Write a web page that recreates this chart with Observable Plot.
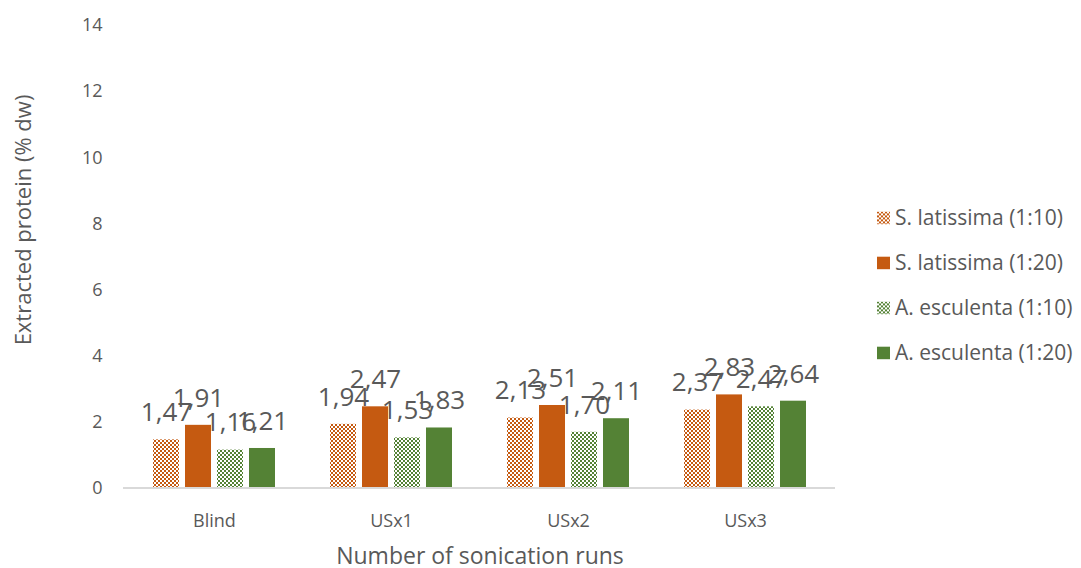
<!DOCTYPE html>
<html>
<head>
<meta charset="utf-8">
<script src="https://cdn.jsdelivr.net/npm/d3@7"></script>
<script src="https://cdn.jsdelivr.net/npm/@observablehq/plot@0.6"></script>
<style>
  html, body { margin: 0; padding: 0; background: #fff; }
  #chart { position: relative; width: 1081px; height: 568px; font-family: "Open Sans", sans-serif; color: #595959; }
  #chart svg.plot { position: absolute; left: 0; top: 0; }
  .ytitle { position: absolute; left: 22px; top: 220px; transform: translate(-50%, -50%) rotate(-90deg); white-space: nowrap; font-size: 22px; line-height: 1; }
  .xtitle { position: absolute; left: 480px; top: 555px; transform: translate(-50%, -50%); white-space: nowrap; font-size: 23px; line-height: 1; }
  .legend { position: absolute; left: 877px; top: 0; }
  .legend .item { position: absolute; left: 0; display: flex; align-items: center; white-space: nowrap; font-size: 21px; line-height: 1.2; transform: translateY(-50%); }
  .legend .item svg { margin-right: 5px; }
</style>
</head>
<body>
<div id="chart">
  <svg width="0" height="0" style="position:absolute">
    <defs>
      <pattern id="chkOrange" width="4" height="4" patternUnits="userSpaceOnUse">
        <rect width="4" height="4" fill="#ffffff"/>
        <rect width="2" height="2" fill="#C55A11"/>
        <rect x="2" y="2" width="2" height="2" fill="#C55A11"/>
      </pattern>
      <pattern id="chkGreen" width="4" height="4" patternUnits="userSpaceOnUse">
        <rect width="4" height="4" fill="#ffffff"/>
        <rect width="2" height="2" fill="#548235"/>
        <rect x="2" y="2" width="2" height="2" fill="#548235"/>
      </pattern>
    </defs>
  </svg>
</div>
<script>
// Number of sonication runs (groups along the x axis)
const categories = ["Blind", "USx1", "USx2", "USx3"];
// Species / solid-to-liquid ratio series
const series = ["S. latissima (1:10)", "S. latissima (1:20)", "A. esculenta (1:10)", "A. esculenta (1:20)"];
const seriesFills = ["url(#chkOrange)", "#C55A11", "url(#chkGreen)", "#548235"];
// Extracted protein (% dw), one array per series, in category order
const slat10 = [1.47, 1.94, 2.13, 2.37];
const slat20 = [1.91, 2.47, 2.51, 2.83];
const aesc10 = [1.16, 1.53, 1.70, 2.47];
const aesc20 = [1.21, 1.83, 2.11, 2.64];
const yTicks = [0, 2, 4, 6, 8, 10, 12, 14];

const valuesBySeries = [slat10, slat20, aesc10, aesc20];
const data = [];
categories.forEach((c, i) => {
  series.forEach((s, j) => data.push({category: c, series: s, value: valuesBySeries[j][i]}));
});

const fmt = v => v.toFixed(2).replace(".", ",");

const plot = Plot.plot({
  width: 850,
  height: 568,
  marginLeft: 124,
  marginRight: 15,
  marginTop: 25,
  marginBottom: 80,
  style: {fontFamily: "'Open Sans', sans-serif", fontSize: "18px", color: "#595959", background: "transparent"},
  fx: {domain: categories, paddingInner: 0.23, paddingOuter: 0.115, axis: "bottom", tickSize: 0, tickPadding: 26, label: null},
  x: {domain: series, padding: 0.2, axis: null},
  // the y axis sits on the first facet, so its padding also covers the outer facet gap
  y: {domain: [0, 14], ticks: yTicks, tickSize: 0, tickPadding: 44, label: null},
  color: {domain: series, range: seriesFills},
  marks: [
    Plot.barY(data, {fx: "category", x: "series", y: "value", fill: "series"}),
    Plot.text(data, {fx: "category", x: "series", y: "value", text: d => fmt(d.value), dy: -27, fontSize: 26, fill: "#595959"})
  ]
});
plot.classList.add("plot");

// Category axis baseline across the full plotting width
const yScale = plot.scale("y");
const fxScale = plot.scale("fx");
const [xa, xb] = fxScale.range;
const y0 = yScale.apply(0);
d3.select(plot).append("line")
  .attr("x1", xa - 1).attr("x2", xb)
  .attr("y1", y0).attr("y2", y0)
  .attr("stroke", "#d9d9d9").attr("stroke-width", 2);

const chart = document.getElementById("chart");
chart.appendChild(plot);

const yt = document.createElement("div");
yt.className = "ytitle";
yt.textContent = "Extracted protein (% dw)";
chart.appendChild(yt);

const xt = document.createElement("div");
xt.className = "xtitle";
xt.textContent = "Number of sonication runs";
chart.appendChild(xt);

// Legend to the right of the plot
const legend = document.createElement("div");
legend.className = "legend";
series.forEach((s, j) => {
  const item = document.createElement("div");
  item.className = "item";
  item.style.top = (218 + 45 * j) + "px";
  item.innerHTML = `<svg width="13" height="13"><rect width="13" height="13" fill="${seriesFills[j]}"/></svg><span>${s}</span>`;
  legend.appendChild(item);
});
chart.appendChild(legend);
</script>
</body>
</html>
